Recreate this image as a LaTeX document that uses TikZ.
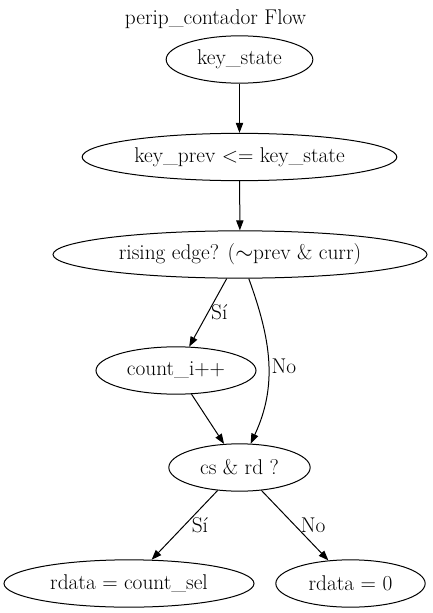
\documentclass[tikz,border=0pt]{standalone}
\usepackage{fontspec}
\usetikzlibrary{arrows.meta, shapes.geometric}
\tikzset{
  stnode/.style={ellipse, draw=black, line width=0.75pt, inner sep=0pt,
    minimum height=35.5pt, font=\fontsize{16}{19}\selectfont, align=center},
  arr/.style={-{Triangle[length=7.5pt, width=5.5pt]}, line width=0.75pt, black},
  lbl/.style={font=\fontsize{16}{19}\selectfont, inner sep=1pt},
}

\begin{document}
\begin{tikzpicture}[x=0.75pt, y=0.75pt]
        \useasboundingbox (0,0) rectangle (432,-613);
        \node[lbl] (title) at (215.5,-19.5) {perip\_contador Flow};
        \node[stnode, minimum width=110pt] (ks) at (239.5,-59.5) {key\_state};
        \node[stnode, minimum width=236pt] (kp) at (239.5,-157) {key\_prev <= key\_state};
        \node[stnode, minimum width=280.5pt] (rise) at (240,-254.5) {rising edge? ($\sim$prev \& curr)};
        \node[stnode, minimum width=120pt] (cnt) at (176,-370.5) {count\_i++};
        \node[stnode, minimum width=106pt] (csrd) at (239.5,-467.5) {cs \& rd ?};
        \node[stnode, minimum width=187.5pt] (rsel) at (129,-583.5) {rdata = count\_sel};
        \node[stnode, minimum width=112pt] (rzero) at (350.5,-583.5) {rdata = 0};
        \draw[arr] (ks) -- (kp);
        \draw[arr] (kp) -- (rise);
        \draw[arr] (rise) -- node[lbl, right=1pt] {Sí} (cnt);
        \draw[arr] (rise) to[out=-70, in=65] node[lbl, right=1pt, pos=0.53] {No} (csrd);
        \draw[arr] (cnt) -- (csrd);
        \draw[arr] (csrd) -- node[lbl, right=4pt] {Sí} (rsel);
        \draw[arr] (csrd) -- node[lbl, right=3pt] {No} (rzero);
      \end{tikzpicture}
\end{document}
